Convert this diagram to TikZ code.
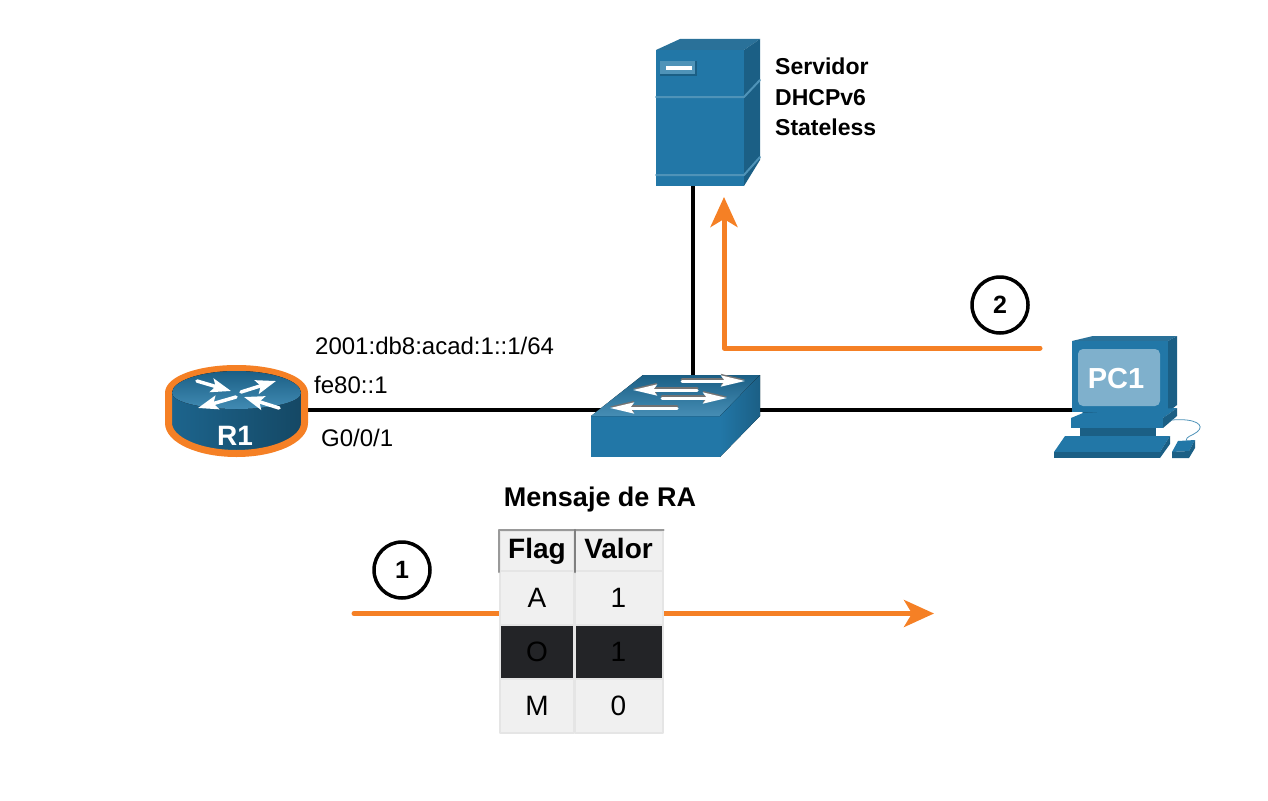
\documentclass[tikz,border=0pt]{standalone}
\usepackage{fontspec}
\setmainfont{Liberation Sans}
\usetikzlibrary{arrows.meta}
\definecolor{devblue}{HTML}{2277A7}
\definecolor{devdark}{HTML}{1B5F85}
\definecolor{devtop}{HTML}{2A7199}
\definecolor{devline}{HTML}{4F93B8}
\definecolor{flagorange}{HTML}{F58025}
\definecolor{cellgray}{HTML}{F0F0F0}
\definecolor{celldark}{HTML}{232427}
\definecolor{screenblue}{HTML}{7FB0CC}
\newcommand{\pxfont}[1]{\fontsize{#1}{#1}\selectfont}
\tikzset{
  link/.style={line width=3.5},
  flow/.style={draw=flagorange,line width=5,-{Stealth[length=30,width=27,inset=8]}},
  badge/.style={circle,draw,line width=3.5,minimum size=56,inner sep=0,font=\pxfont{25}\bfseries},
  addr/.style={anchor=west,inner sep=0,font=\pxfont{24}},
  heading/.style={inner sep=0,font=\pxfont{27}\bfseries},
  cell/.style={draw=black!10,line width=2,fill=cellgray,inner sep=0,font=\pxfont{28}},
  headcell/.style={cell,font=\pxfont{28}\bfseries,text height=21,text depth=7},
  darkcell/.style={cell,fill=celldark,text=black},
  swarrow/.style={draw=white,line width=3,-{Stealth[length=24,width=11,inset=4]},
    preaction={draw=black!55,line width=3,transform canvas={yshift=1.5pt}}},
  rtarrow/.style={draw=white,line width=3.5,-{Stealth[length=20,width=14,inset=4]}},
  face/.style={fill=devblue},
}
\begin{document}
\begin{tikzpicture}[x=1pt,y=-1pt,line cap=round,line join=round]
    \useasboundingbox (0,0) rectangle (1268,800);

    % named places
    \coordinate (r1) at (236,410);
    \coordinate (sw) at (676,410);
    \coordinate (swup) at (693,376);
    \coordinate (srv) at (693,186);
    \coordinate (pc) at (1120,410);
    \coordinate (msgstart) at (354,613.5);
    \coordinate (msgend) at (934,613.5);
    \coordinate (askstart) at (1040,348);
    \coordinate (askbend) at (724,348);
    \coordinate (askend) at (724,197);

    % links
    \draw[link] (r1) -- (sw);
    \draw[link] (sw) -- (pc);
    \draw[link] (swup) -- (srv);

    % router
    \draw[draw=flagorange,line width=7,left color=devblue!85!black,middle color=devline,right color=devdark!75!black]
      (168.5,393) arc (180:360:68 and 24.5) -- (304.5,423) arc (0:180:68 and 30.5) -- cycle;
    \fill[top color=devdark,bottom color=devline!70!devblue] (172,393) arc (180:360:64.5 and 22) arc (0:180:64.5 and 16) -- cycle;
    \draw[rtarrow] (197,381) -- (231,391);
    \draw[rtarrow] (241,392) -- (276,381);
    \draw[rtarrow] (236,397) -- (198,408);
    \draw[rtarrow] (279,408) -- (244,397);
    \node[text=white,inner sep=0,font=\pxfont{28}\bfseries] (r1label) at (235,436) {R1};

    % switch
    \fill[face] (591,416) -- (720,416) -- (720,457) -- (591,457) -- cycle;
    \fill[top color=devdark,bottom color=devline!80!devblue] (591,416) -- (643,375) -- (760,375) -- (720,416) -- cycle;
    \fill[left color=devblue,right color=devdark] (720,416) -- (760,375) -- (760,416) -- (720,457) -- cycle;
    \draw[swarrow] (682,381) -- (745,381);
    \draw[swarrow] (697,390) -- (633,390);
    \draw[swarrow] (662,398) -- (727,398);
    \draw[swarrow] (677,408) -- (610,408);

    % server
    \fill[devtop] (656,50) -- (680,39) -- (760,39) -- (744,50) -- cycle;
    \fill[face] (656,50) rectangle (744,186);
    \fill[devdark] (744,50) -- (760,39) -- (760,160) -- (744,186) -- cycle;
    \draw[devline,line width=2] (656,97) -- (744,97) -- (760,80);
    \draw[devline,line width=2] (656,175) -- (744,175) -- (760,157);
    \fill[devdark] (660,61) rectangle (697,76);
    \fill[devline] (660,61) rectangle (695,74);
    \fill[white] (666,66) rectangle (692,70);
    \node[inner sep=0,anchor=north west,align=left,font=\fontsize{23}{30.5}\selectfont\bfseries]
      (srvlabel) at (775,58) {Servidor\\DHCPv6\\Stateless};

    % pc
    \fill[devtop] (1072,341) -- (1093,336) -- (1177,336) -- (1168,341) -- cycle;
    \fill[devdark] (1168,341) -- (1177,336) -- (1177,405) -- (1168,412) -- cycle;
    \fill[face] (1072,341) rectangle (1168,412);
    \fill[screenblue,rounded corners=5] (1078,349) rectangle (1160,406);
    \node[text=white,inner sep=0,font=\pxfont{29}\bfseries] (pclabel) at (1116,379) {PC1};
    \fill[devdark] (1082,412) -- (1165,412) -- (1158,418) -- (1088,418) -- cycle;
    \fill[devblue] (1071,418) -- (1083,413) -- (1177,408) -- (1163,418) -- cycle;
    \fill[devdark] (1163,418) -- (1177,408) -- (1177,416) -- (1163,428) -- cycle;
    \fill[devblue] (1071,418) rectangle (1163,428);
    \fill[devdark] (1080,428) rectangle (1156,436);
    \fill[devblue] (1065,436) -- (1170,436) -- (1160,452) -- (1054,452) -- cycle;
    \fill[devdark] (1054,452) -- (1160,452) -- (1160,458) -- (1054,458) -- cycle;
    \fill[devdark] (1160,452) -- (1170,436) -- (1170,444) -- (1160,458) -- cycle;
    \fill[devblue] (1178,441) -- (1195,440) -- (1189,451) -- (1172,452) -- cycle;
    \fill[devdark] (1172,452) -- (1189,451) -- (1195,440) -- (1195,448) -- (1189,458) -- (1172,458) -- cycle;
    \draw[devline,line width=.8] (1172,420) .. controls (1195,418) and (1206,425) .. (1197,432) .. controls (1192,436) and (1186,436) .. (1186,441);

    % addresses
    \node[addr] (gua) at (315,346) {2001:db8:acad:1::1/64};
    \node[addr] (lla) at (314,385) {fe80::1};
    \node[addr] (port) at (321,438) {G0/0/1};

    % flows
    \draw[flow] (msgstart) -- (msgend);
    \draw[flow] (askstart) -- (askbend) -- (askend);
    \node[badge] (one) at (402,570) {1};
    \node[badge] (two) at (1000,305) {2};

    % table
    \node[heading] (msgtitle) at (600,500) {Mensaje de RA};
    \node[headcell,minimum width=74,minimum height=40] (flaghead) at (537,551) {Flag};
    \node[headcell,minimum width=88,minimum height=40] (valhead) at (618.5,551) {Valor};
    \node[cell,minimum width=74,minimum height=54] (flaga) at (537,597.5) {A};
    \node[cell,minimum width=88,minimum height=54] (vala) at (618.5,597.5) {1};
    \node[darkcell,minimum width=74,minimum height=54] (flago) at (537,651.5) {O};
    \node[darkcell,minimum width=88,minimum height=54] (valo) at (618.5,651.5) {1};
    \node[cell,minimum width=74,minimum height=54] (flagm) at (537,705.5) {M};
    \node[cell,minimum width=88,minimum height=54] (valm) at (618.5,705.5) {0};
    \draw[black!40,line width=2] (flaghead.south west) -- (flaghead.north west) -- (flaghead.north east) -- (valhead.north east);
    \draw[black!50,line width=2.5] (flaghead.north east) -- (flaghead.south east);

\end{tikzpicture}
\end{document}
